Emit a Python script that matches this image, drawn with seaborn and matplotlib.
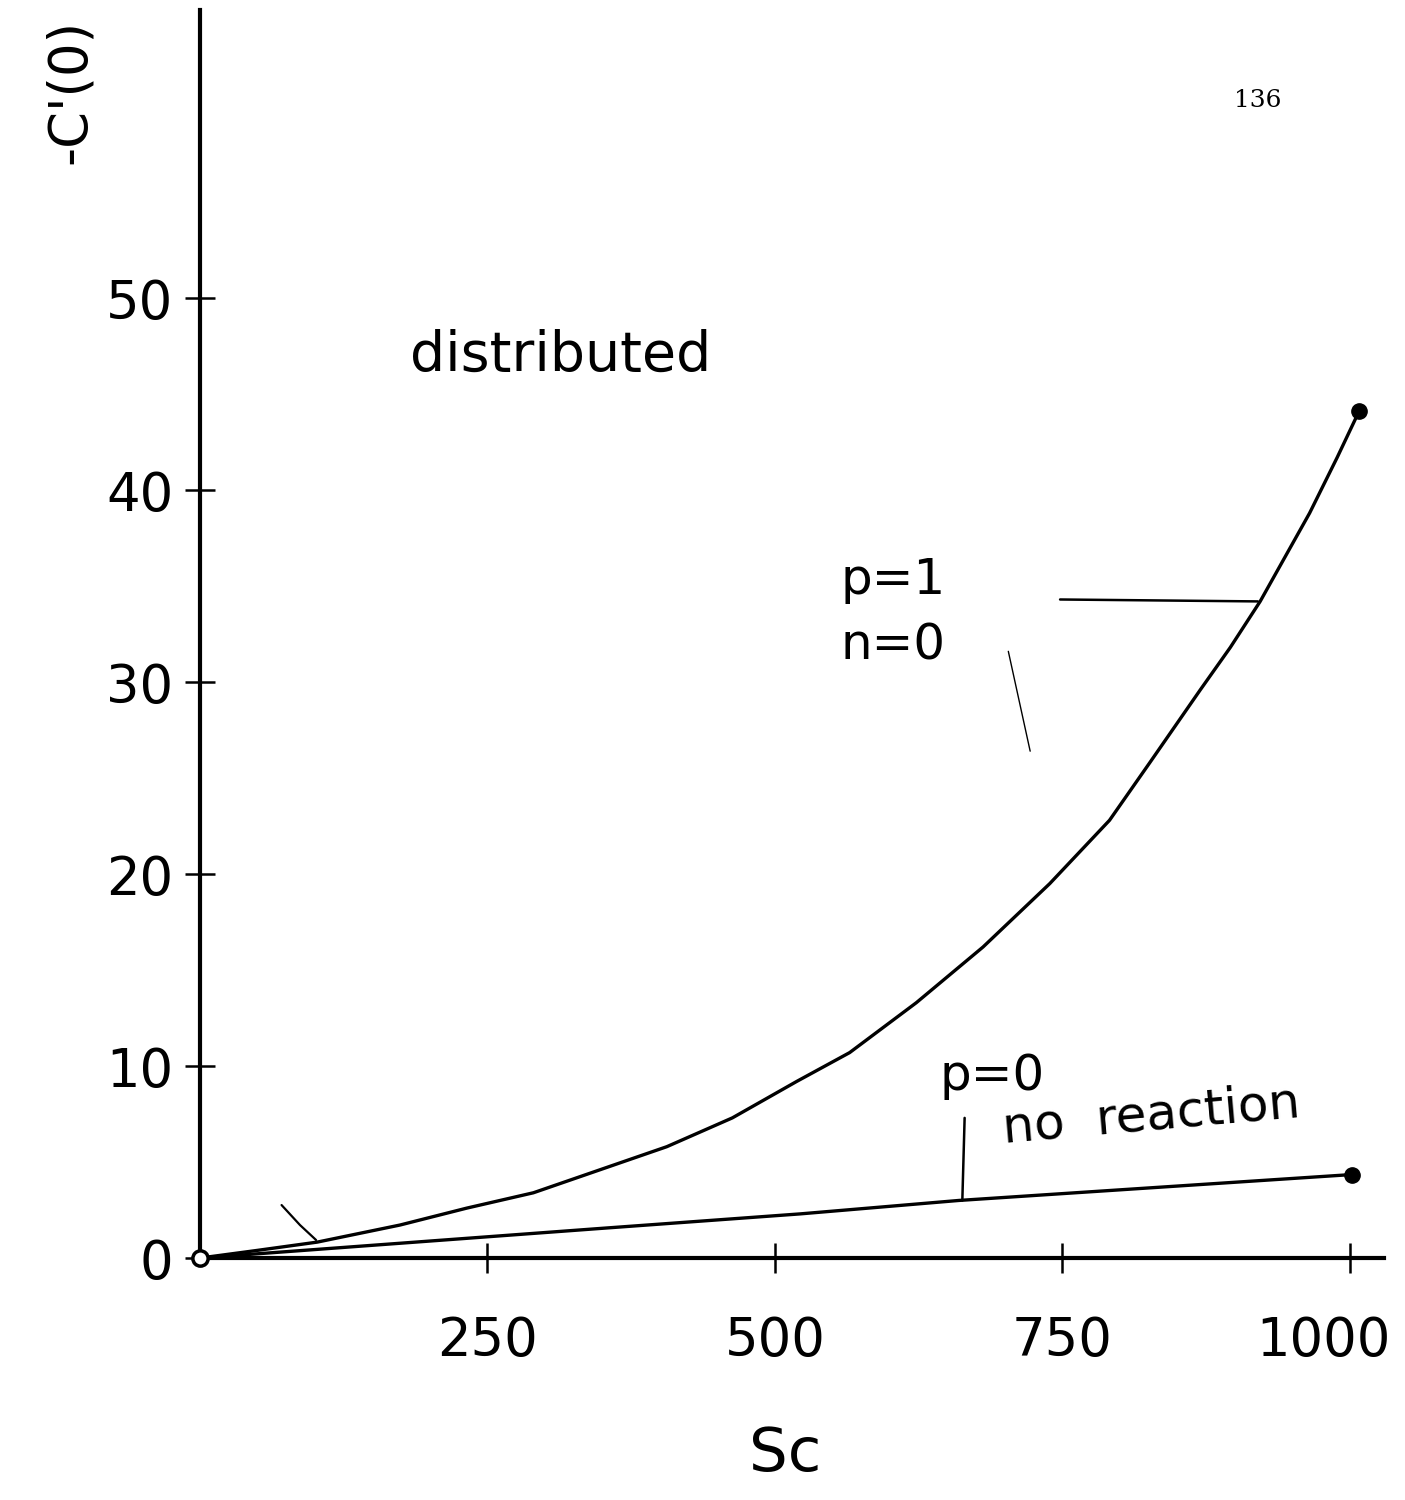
import matplotlib
matplotlib.use("Agg")
import matplotlib.pyplot as plt
import matplotlib.transforms as mtransforms
import seaborn as sns
import pandas as pd

# values
sc_p1 = [0, 50, 102, 174, 232, 290, 348, 406, 463, 519, 565, 623, 681, 739, 791,
         826, 870, 896, 922, 965, 989, 1008]
c_p1 = [0, 0.4, 0.83, 1.72, 2.6, 3.4, 4.6, 5.8, 7.3, 9.2, 10.7, 13.3, 16.2, 19.5, 22.8,
        25.8, 29.6, 31.8, 34.2, 38.8, 41.7, 44.1]
sc_p0 = [0, 350, 522, 660, 1002]
c_p0 = [0, 1.55, 2.3, 3.0, 4.35]
xticks = [250, 500, 750, 1000]
yticks = [0, 10, 20, 30, 40, 50]

sns.set_style("white")
plt.rcParams["font.family"] = ["DejaVu Sans"]
plt.rcParams["text.color"] = "black"
plt.rcParams["xtick.color"] = "black"
plt.rcParams["ytick.color"] = "black"
plt.rcParams["lines.solid_joinstyle"] = "round"

df = pd.concat([
    pd.DataFrame({"Sc": sc_p1, "C": c_p1, "case": "p=1"}),
    pd.DataFrame({"Sc": sc_p0, "C": c_p0, "case": "p=0"}),
])

fig = plt.figure(figsize=(14.05, 15), dpi=100)
ax = fig.add_axes([0.1423, 0.1613, 0.843, 0.832])

sns.lineplot(data=df, x="Sc", y="C", units="case", estimator=None, sort=False,
             color="black", lw=2.4, ax=ax, legend=False)

# end points
ends = df.groupby("case").tail(1)
ax.plot(ends["Sc"], ends["C"], "o", color="black", ms=11, clip_on=False, zorder=5)
ax.plot([0], [0], "o", mfc="white", mec="black", mew=2.5, ms=11, clip_on=False, zorder=6)

# leader lines
ax.plot([748, 920], [34.3, 34.2], color="black", lw=1.8)
ax.plot([665, 663], [7.3, 3.0], color="black", lw=1.8)
ax.plot([71, 87, 101], [2.76, 1.72, 0.94], color="black", lw=1.6)
ax.plot([703, 722], [31.6, 26.4], color="black", lw=1.0)

ax.set_xlim(0, 1030)
ax.set_ylim(0, 65)
ax.set_xticks(xticks)
ax.set_yticks(yticks)
ax.set_xlabel("")
ax.set_ylabel("")

for s in ["top", "right"]:
    ax.spines[s].set_visible(False)
for s in ["left", "bottom"]:
    ax.spines[s].set_linewidth(3)
    ax.spines[s].set_color("black")

ax.tick_params(axis="y", direction="inout", length=22, width=1.8, labelsize=38, pad=8)
ax.tick_params(axis="x", direction="inout", length=22, width=1.8, labelsize=38, pad=30)
ax.yaxis.set_ticks_position("left")
ax.xaxis.set_ticks_position("bottom")

# nudge the "1000" label left so it stays on the page
last = ax.xaxis.get_major_ticks()[-1].label1
last.set_transform(last.get_transform() +
                   mtransforms.ScaledTranslation(-26 / 100, 0, fig.dpi_scale_trans))

ax.text(183, 47.0, "distributed", fontsize=40, ha="left", va="center")
ax.text(557, 35.3, "p=1", fontsize=36, ha="left", va="center")
ax.text(557, 31.9, "n=0", fontsize=36, ha="left", va="center")
ax.text(643, 9.5, "p=0", fontsize=36, ha="left", va="center")
ax.text(696, 7.4, "no  reaction", fontsize=36, ha="left", va="center", rotation=5)

fig.text(0.559, 0.03, "Sc", fontsize=44, ha="center", va="center")
fig.text(0.05, 0.939, "-C'(0)", fontsize=38, ha="center", va="center", rotation=90)
fig.text(0.895, 0.933, "136", fontsize=18, ha="center", va="center", family="DejaVu Serif")

fig.savefig("out.png", dpi=100)
plt.close(fig)
